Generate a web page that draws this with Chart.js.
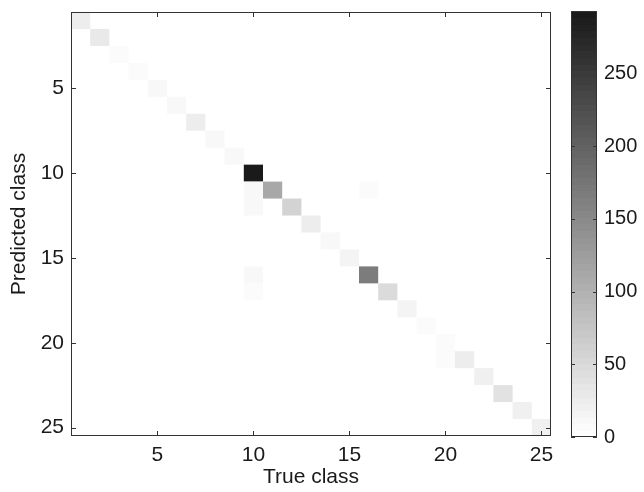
<!DOCTYPE html>
<html>
<head>
<meta charset="utf-8">
<script src="https://cdn.jsdelivr.net/npm/chart.js@4/dist/chart.umd.min.js"></script>
<style>
  body { margin: 0; background: #fff; }
  #wrap { position: relative; width: 644px; height: 492px; }
  #main { position: absolute; left: 0; top: 0; }
  #bar { position: absolute; left: 560px; top: 0; }
</style>
</head>
<body>
<div id="wrap">
  <canvas id="main" width="560" height="492"></canvas>
  <canvas id="bar" width="84" height="492"></canvas>
</div>
<script>
// confusion matrix, one entry per non-empty cell
const trueClass =      [1, 2, 3, 4, 5, 6, 7, 8, 9, 10, 11, 12, 13, 14, 15, 16, 17, 18, 19, 20, 21, 22, 23, 24, 25, 10, 10, 16, 10, 10, 20];
const predictedClass = [1, 2, 3, 4, 5, 6, 7, 8, 9, 10, 11, 12, 13, 14, 15, 16, 17, 18, 19, 20, 21, 22, 23, 24, 25, 11, 12, 11, 16, 17, 21];
const counts =         [24, 28, 8, 8, 13, 12, 23, 10, 10, 293, 111, 58, 27, 12, 14, 169, 49, 17, 6, 6, 26, 19, 40, 19, 20, 13, 13, 9, 12, 6, 6];

const xTicks = [5, 10, 15, 20, 25];
const yTicks = [5, 10, 15, 20, 25];
const colorTicks = [0, 50, 100, 150, 200, 250];
const colorLimit = [0, 293];

const FONT = { family: 'Liberation Sans, Arial, sans-serif', size: 21 };
const BAR_FONT = { family: 'Liberation Sans, Arial, sans-serif', size: 20 };
const TEXT = '#1a1a1a';
const FRAME = '#333';

// flipped gray colormap, 64 steps like matlab
function grayFor(v) {
  const t = Math.min(1, Math.max(0, (v - colorLimit[0]) / (colorLimit[1] - colorLimit[0])));
  const step = Math.min(63, Math.floor(t * 64));
  const g = Math.round(255 - (step / 63) * 229);
  return `rgb(${g},${g},${g})`;
}

const cells = trueClass.map((x, i) => ({ x, y: predictedClass[i], v: counts[i] }));

const cellPlugin = {
  id: 'cells',
  beforeDatasetsDraw(chart) {
    const { ctx, scales: { x, y } } = chart;
    const pts = chart.data.datasets[0].data;
    ctx.save();
    pts.forEach((p) => {
      const x0 = x.getPixelForValue(p.x - 0.5);
      const x1 = x.getPixelForValue(p.x + 0.5);
      const y0 = y.getPixelForValue(p.y - 0.5);
      const y1 = y.getPixelForValue(p.y + 0.5);
      ctx.fillStyle = grayFor(p.v);
      ctx.fillRect(x0, Math.min(y0, y1), x1 - x0, Math.abs(y1 - y0));
    });
    ctx.restore();
  },
};

// matlab style box with inward ticks on all sides
const framePlugin = {
  id: 'frame',
  afterDraw(chart, args, opts) {
    const { ctx, chartArea: a, scales } = chart;
    ctx.save();
    ctx.strokeStyle = FRAME;
    ctx.lineWidth = 1;
    ctx.strokeRect(Math.round(a.left) + 0.5, Math.round(a.top) + 0.5,
      Math.round(a.right - a.left) - 1, Math.round(a.bottom - a.top) - 1);
    const len = opts.tickLength;
    ctx.beginPath();
    if (scales.x && scales.x.options.display !== false) {
      scales.x.ticks.forEach((t) => {
        const px = Math.round(scales.x.getPixelForValue(t.value)) + 0.5;
        ctx.moveTo(px, a.bottom); ctx.lineTo(px, a.bottom - len);
        ctx.moveTo(px, a.top); ctx.lineTo(px, a.top + len);
      });
    }
    scales.y.ticks.forEach((t) => {
      const py = Math.round(scales.y.getPixelForValue(t.value)) + 0.5;
      ctx.moveTo(a.left, py); ctx.lineTo(a.left + len, py);
      ctx.moveTo(a.right, py); ctx.lineTo(a.right - len, py);
    });
    ctx.stroke();
    ctx.restore();
  },
};

const colorbarPlugin = {
  id: 'colorbar',
  beforeDraw(chart) {
    const { ctx, chartArea: a, scales: { y } } = chart;
    ctx.save();
    for (let i = 0; i < 64; i++) {
      const lo = colorLimit[0] + (i / 64) * (colorLimit[1] - colorLimit[0]);
      const hi = colorLimit[0] + ((i + 1) / 64) * (colorLimit[1] - colorLimit[0]);
      const y0 = y.getPixelForValue(hi);
      const y1 = y.getPixelForValue(lo);
      ctx.fillStyle = grayFor((lo + hi) / 2);
      ctx.fillRect(a.left, Math.floor(y0), a.right - a.left, Math.ceil(y1) - Math.floor(y0));
    }
    ctx.restore();
  },
};

const setTicks = (vals) => (axis) => { axis.ticks = vals.map((v) => ({ value: v })); };
// fixed axis size, no extra room for overhanging labels
const fixHeight = (h) => (s) => { s.height = h; s.paddingLeft = 0; s.paddingRight = 0; };
const fixWidth = (w) => (s) => { s.width = w; s.paddingTop = 0; s.paddingBottom = 0; };

new Chart(document.getElementById('main'), {
  type: 'scatter',
  data: { datasets: [{ data: cells, pointRadius: 0, pointHoverRadius: 0 }] },
  options: {
    responsive: false,
    animation: false,
    events: [],
    layout: { padding: { top: 12, right: 9, left: 0, bottom: 0 } },
    plugins: { legend: { display: false }, tooltip: { enabled: false }, frame: { tickLength: 5 } },
    scales: {
      x: {
        type: 'linear',
        min: 0.5,
        max: 25.5,
        grid: { display: false, drawTicks: false },
        border: { display: false },
        afterBuildTicks: setTicks(xTicks),
        afterFit: fixHeight(56),
        ticks: { color: TEXT, font: FONT, padding: 7, maxRotation: 0, autoSkip: false },
        title: { display: true, text: 'True class', color: TEXT, font: FONT, padding: { top: 0, bottom: 2 } },
      },
      y: {
        type: 'linear',
        reverse: true,
        min: 0.5,
        max: 25.5,
        grid: { display: false, drawTicks: false },
        border: { display: false },
        afterBuildTicks: setTicks(yTicks),
        afterFit: fixWidth(71),
        ticks: { color: TEXT, font: FONT, padding: 7, autoSkip: false },
        title: { display: true, text: 'Predicted class', color: TEXT, font: FONT, padding: { top: 7, bottom: 0 } },
      },
    },
  },
  plugins: [cellPlugin, framePlugin],
});

new Chart(document.getElementById('bar'), {
  type: 'scatter',
  data: { datasets: [{ data: [] }] },
  options: {
    responsive: false,
    animation: false,
    events: [],
    layout: { padding: { top: 11, left: 11, right: 0, bottom: 55 } },
    plugins: { legend: { display: false }, tooltip: { enabled: false }, frame: { tickLength: 4 } },
    scales: {
      x: { display: false, min: 0, max: 1 },
      y: {
        type: 'linear',
        position: 'right',
        min: colorLimit[0],
        max: colorLimit[1],
        grid: { display: false, drawTicks: false },
        border: { display: false },
        afterBuildTicks: setTicks(colorTicks),
        afterFit: fixWidth(47),
        ticks: { color: TEXT, font: BAR_FONT, padding: 7, autoSkip: false },
      },
    },
  },
  plugins: [colorbarPlugin, framePlugin],
});
</script>
</body>
</html>
